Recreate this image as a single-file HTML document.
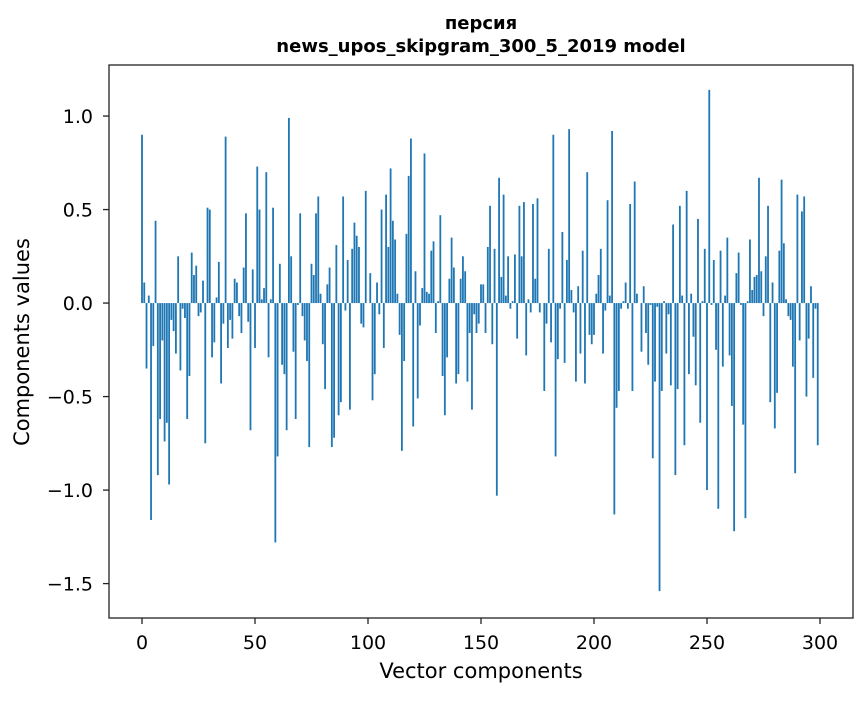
<!DOCTYPE html>
<html><head><meta charset="utf-8"><style>
body{margin:0;background:#fff;}
svg text{font-family:"DejaVu Sans","Liberation Sans",sans-serif;fill:#000;}
</style></head><body>
<svg id="chart" width="867" height="696" xmlns="http://www.w3.org/2000/svg">
<rect width="867" height="696" fill="#fff"/>
<text x="481" y="29" text-anchor="middle" font-size="18" font-weight="bold">персия</text>
<text x="481" y="52" text-anchor="middle" font-size="18" font-weight="bold">news_upos_skipgram_300_5_2019 model</text>
<g id="bars"></g>
<g id="axes"></g>
<text x="481" y="678" text-anchor="middle" font-size="21">Vector components</text>
<text transform="translate(29,342) rotate(-90)" text-anchor="middle" font-size="21">Components values</text>
</svg>
<script>
const values = [
0.90,0.11,-0.35,0.04,-1.16,-0.23,0.44,-0.92,-0.62,-0.20,
-0.74,-0.64,-0.97,-0.09,-0.15,-0.27,0.25,-0.36,-0.03,-0.08,
-0.62,-0.39,0.27,0.15,0.20,-0.07,-0.05,0.12,-0.75,0.51,
0.50,-0.29,-0.21,0.03,0.22,-0.43,-0.11,0.89,-0.24,-0.09,
-0.19,0.13,0.11,-0.07,-0.16,0.19,0.48,-0.10,-0.68,0.18,
-0.24,0.73,0.50,0.02,0.08,0.70,-0.29,0.02,0.51,-1.28,
-0.82,0.21,-0.33,-0.38,-0.68,0.99,0.25,-0.26,-0.62,-0.01,
0.48,-0.07,-0.20,-0.31,-0.77,0.21,0.15,0.48,0.57,0.05,
-0.22,-0.46,0.10,0.19,-0.77,-0.72,0.31,-0.60,-0.53,0.57,
-0.04,0.23,-0.57,0.29,0.43,0.36,0.30,-0.11,-0.13,0.60,
0.00,0.16,-0.52,-0.38,0.11,-0.06,0.50,-0.24,0.58,0.30,
0.72,0.44,0.34,0.05,-0.17,-0.79,-0.31,0.37,0.68,0.88,
-0.66,0.17,-0.51,-0.12,0.08,0.80,0.06,0.05,0.28,0.33,
-0.16,0.01,0.47,-0.39,-0.60,-0.29,0.13,0.35,0.19,-0.43,
-0.38,0.13,0.25,0.17,-0.42,-0.16,-0.57,-0.06,-0.16,-0.11,
0.10,0.10,-0.16,0.30,0.52,-0.22,0.29,-1.03,0.67,0.14,
0.58,0.04,0.25,-0.03,0.01,0.26,-0.19,0.52,0.25,0.54,
-0.28,0.02,-0.05,0.53,0.13,0.56,-0.05,0.00,-0.47,-0.11,
0.29,-0.21,0.90,-0.82,-0.30,-0.03,0.38,-0.32,0.23,0.93,
0.07,-0.05,-0.42,0.09,-0.27,0.28,-0.43,0.70,-0.17,-0.22,
-0.17,0.05,0.15,0.29,-0.27,-0.04,0.55,0.04,0.92,-1.13,
-0.56,-0.47,-0.03,0.01,0.11,-0.03,0.53,-0.47,0.65,0.05,
0.00,-0.26,0.09,-0.16,-0.33,-0.01,-0.83,-0.42,-0.02,-1.54,
-0.47,0.01,-0.27,-0.06,-0.44,0.42,-0.92,-0.46,0.52,0.04,
-0.76,0.60,-0.38,0.05,-0.18,-0.44,0.45,-0.64,0.01,0.29,
-1.00,1.14,-0.01,0.23,-0.25,-1.10,0.28,-0.34,0.04,0.35,
-0.28,-0.55,-1.22,0.16,0.27,-0.01,-0.65,-1.15,0.01,0.34,
0.07,0.14,0.15,0.67,0.17,-0.07,0.25,0.52,-0.53,0.11,
-0.67,-0.48,0.28,0.66,0.32,0.02,-0.07,-0.09,-0.34,-0.91,
0.58,-0.20,0.49,0.57,-0.50,-0.19,0.09,-0.40,-0.03,-0.76
];
const xTicks = [0,50,100,150,200,250,300];
const yTicks = [-1.5,-1.0,-0.5,0.0,0.5,1.0];
const yTickLabels = ["\u22121.5","\u22121.0","\u22120.5","0.0","0.5","1.0"];

const L=109,R=853,T=65,B=618;
const xMin=-14.6,xMax=314.6,yMin=-1.684,yMax=1.273;
const sx=v=>L+(v-xMin)/(xMax-xMin)*(R-L);
const sy=v=>T+(yMax-v)/(yMax-yMin)*(B-T);
const NS="http://www.w3.org/2000/svg";
const bars=document.getElementById('bars');
const bw=sx(0.8)-sx(0);
values.forEach((v,i)=>{
  const r=document.createElementNS(NS,'rect');
  const y0=sy(0),y1=sy(v);
  r.setAttribute('x',sx(i)-bw/2);
  r.setAttribute('y',Math.min(y0,y1));
  r.setAttribute('width',bw);
  r.setAttribute('height',Math.max(Math.abs(y1-y0),0.01));
  r.setAttribute('fill','#1f77b4');
  
  
  bars.appendChild(r);
});
const axes=document.getElementById('axes');
const frame=document.createElementNS(NS,'rect');
frame.setAttribute('x',L);frame.setAttribute('y',T);
frame.setAttribute('width',R-L);frame.setAttribute('height',B-T);
frame.setAttribute('fill','none');frame.setAttribute('stroke','#222');frame.setAttribute('stroke-width','1.3');


axes.appendChild(frame);
xTicks.forEach(t=>{
  const x=sx(t);
  const l=document.createElementNS(NS,'line');
  l.setAttribute('x1',x);l.setAttribute('x2',x);l.setAttribute('y1',B);l.setAttribute('y2',B+6);
  l.setAttribute('stroke','#222');l.setAttribute('stroke-width','1.3');
  
  
  axes.appendChild(l);
  const tx=document.createElementNS(NS,'text');
  tx.setAttribute('x',x);tx.setAttribute('y',B+31);tx.setAttribute('text-anchor','middle');tx.setAttribute('font-size','19');
  tx.textContent=t;
  
  
  axes.appendChild(tx);
});
yTicks.forEach((t,i)=>{
  const y=sy(t);
  const l=document.createElementNS(NS,'line');
  l.setAttribute('x1',L-6);l.setAttribute('x2',L);l.setAttribute('y1',y);l.setAttribute('y2',y);
  l.setAttribute('stroke','#222');l.setAttribute('stroke-width','1.3');
  
  
  axes.appendChild(l);
  const tx=document.createElementNS(NS,'text');
  tx.setAttribute('x',L-16);tx.setAttribute('y',y+7);tx.setAttribute('text-anchor','end');tx.setAttribute('font-size','19');
  tx.textContent=yTickLabels[i];
  
  
  axes.appendChild(tx);
});
</script>
</body></html>
